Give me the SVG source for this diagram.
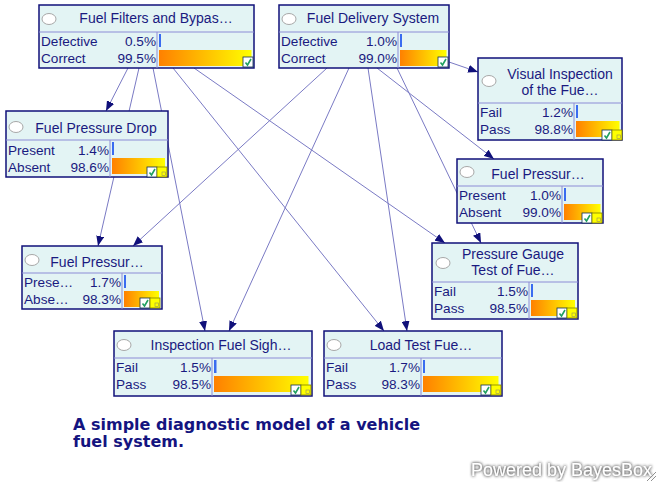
<svg xmlns="http://www.w3.org/2000/svg" width="658" height="482" viewBox="0 0 658 482">
<style>
.box{fill:#e3f4f4;stroke:#10107a;stroke-width:1.5}
.div{stroke:#8c8cd6;stroke-width:1}
.t{font-family:"Liberation Sans",Arial,sans-serif;font-size:14px;fill:#1a1a80;text-anchor:middle}
.l{font-family:"Liberation Sans",Arial,sans-serif;font-size:13.6px;fill:#1a1a80}
.v{font-family:"Liberation Sans",Arial,sans-serif;font-size:13.6px;fill:#1a1a80;text-anchor:end}
.c{fill:#fff;stroke:#a8a8a8;stroke-width:1}
.b{fill:url(#g)}
.s{fill:#3a6cf0}
.ck{fill:#fff;stroke:#103050;stroke-width:0.8}
.cm{fill:none;stroke:#20a060;stroke-width:1.6}
.y{fill:#ffff00;stroke:#808000;stroke-width:0.8}
.e{stroke:#7a7ac4;stroke-width:1;fill:none;marker-end:url(#a)}
.cap{font-family:"DejaVu Sans",Verdana,sans-serif;font-size:16px;font-weight:bold;fill:#141480}
.pw{font-family:"Liberation Sans",Arial,sans-serif;font-size:18px;fill:#fff}
</style>
<defs>
<linearGradient id="g" x1="0" y1="0" x2="1" y2="0"><stop offset="0" stop-color="#ff8000"/><stop offset="1" stop-color="#ffff00"/></linearGradient>
<marker id="a" markerUnits="userSpaceOnUse" markerWidth="10" markerHeight="8" refX="10" refY="4" orient="auto"><path d="M0,0 L10,4 L0,8 z" fill="#10107a"/></marker>
<filter id="glow" x="-10%" y="-40%" width="120%" height="180%"><feGaussianBlur in="SourceAlpha" stdDeviation="1.5" result="b"/><feFlood flood-color="#606060"/><feComposite in2="b" operator="in" result="sh"/><feMerge><feMergeNode in="sh"/><feMergeNode in="sh"/><feMergeNode in="SourceGraphic"/></feMerge></filter>
<g id="chk"><rect class="ck" x="0" y="0" width="10" height="10"/><path class="cm" d="M2.5,5.5 L4.5,8 L8,2"/></g>
<g id="yel"><rect class="y" x="0" y="0" width="10" height="10"/><rect x="5" y="5" width="3.5" height="3.5" fill="none" stroke="#909060" stroke-width="0.6"/></g>
</defs>
<g id="edges">
<line class="e" x1="128" y1="68" x2="106" y2="111"/>
<line class="e" x1="139" y1="68" x2="98" y2="246"/>
<line class="e" x1="153" y1="68" x2="205" y2="331"/>
<line class="e" x1="173" y1="68" x2="384" y2="331"/>
<line class="e" x1="194" y1="68" x2="445" y2="243"/>
<line class="e" x1="449" y1="62" x2="478" y2="72"/>
<line class="e" x1="327" y1="68" x2="133" y2="246"/>
<line class="e" x1="349" y1="68" x2="229" y2="331"/>
<line class="e" x1="368" y1="68" x2="407" y2="331"/>
<line class="e" x1="377" y1="68" x2="494" y2="159"/>
<line class="e" x1="397" y1="68" x2="481" y2="243"/>
</g>
<g id="n1">
<rect class="box" x="39" y="5" width="215" height="63"/>
<line class="div" x1="39" y1="32" x2="254" y2="32"/><line class="div" x1="157" y1="32" x2="157" y2="68"/>
<ellipse class="c" cx="49" cy="19" rx="7" ry="5.5"/>
<text class="t" x="156" y="23">Fuel Filters and Bypas…</text>
<text class="l" x="41" y="46">Defective</text><text class="v" x="156" y="46">0.5%</text>
<text class="l" x="41" y="63">Correct</text><text class="v" x="156" y="63">99.5%</text>
<rect class="s" x="159" y="34" width="2" height="13"/>
<rect class="b" x="159" y="50" width="92.5" height="16"/>
<use href="#chk" x="243" y="57"/>
</g>
<g id="n2">
<rect class="box" x="279" y="5" width="170" height="63"/>
<line class="div" x1="279" y1="32" x2="449" y2="32"/><line class="div" x1="398" y1="32" x2="398" y2="68"/>
<ellipse class="c" cx="289" cy="19" rx="7" ry="5.5"/>
<text class="t" x="373" y="23">Fuel Delivery System</text>
<text class="l" x="281" y="46">Defective</text><text class="v" x="397" y="46">1.0%</text>
<text class="l" x="281" y="63">Correct</text><text class="v" x="397" y="63">99.0%</text>
<rect class="s" x="400" y="34" width="2" height="13"/>
<rect class="b" x="400" y="50" width="46.5" height="16"/>
<use href="#chk" x="438" y="57"/>
</g>
<g id="n3">
<rect class="box" x="478" y="58" width="144" height="82"/>
<line class="div" x1="478" y1="103" x2="622" y2="103"/><line class="div" x1="574" y1="103" x2="574" y2="140"/>
<ellipse class="c" cx="489" cy="81" rx="7" ry="5.5"/>
<text class="t" x="560" y="79">Visual Inspection</text>
<text class="t" x="560" y="95">of the Fue…</text>
<text class="l" x="480" y="117">Fail</text><text class="v" x="573" y="117">1.2%</text>
<text class="l" x="480" y="134">Pass</text><text class="v" x="573" y="134">98.8%</text>
<rect class="s" x="576" y="105" width="2" height="13"/>
<rect class="b" x="576" y="121" width="43.5" height="16"/>
<use href="#chk" x="602" y="130"/><use href="#yel" x="612" y="130"/>
</g>
<g id="n4">
<rect class="box" x="6" y="111" width="162" height="66"/>
<line class="div" x1="6" y1="140" x2="168" y2="140"/><line class="div" x1="110" y1="140" x2="110" y2="177"/>
<ellipse class="c" cx="16" cy="127" rx="7" ry="5.5"/>
<text class="t" x="96" y="133">Fuel Pressure Drop</text>
<text class="l" x="8" y="155">Present</text><text class="v" x="109" y="155">1.4%</text>
<text class="l" x="8" y="172">Absent</text><text class="v" x="109" y="172">98.6%</text>
<rect class="s" x="112" y="142" width="2" height="13"/>
<rect class="b" x="112" y="158" width="53" height="16"/>
<use href="#chk" x="147" y="167"/><use href="#yel" x="157" y="167"/>
</g>
<g id="n5">
<rect class="box" x="457" y="159" width="146" height="64"/>
<line class="div" x1="457" y1="186" x2="603" y2="186"/><line class="div" x1="562" y1="186" x2="562" y2="223"/>
<ellipse class="c" cx="467" cy="172" rx="7" ry="5.5"/>
<text class="t" x="538" y="179">Fuel Pressur…</text>
<text class="l" x="459" y="200">Present</text><text class="v" x="561" y="200">1.0%</text>
<text class="l" x="459" y="217">Absent</text><text class="v" x="561" y="217">99.0%</text>
<rect class="s" x="564" y="188" width="2" height="13"/>
<rect class="b" x="564" y="204" width="36.5" height="16"/>
<use href="#chk" x="582" y="213"/><use href="#yel" x="592" y="213"/>
</g>
<g id="n6">
<rect class="box" x="22" y="246" width="140" height="63"/>
<line class="div" x1="22" y1="273" x2="162" y2="273"/><line class="div" x1="122" y1="273" x2="122" y2="309"/>
<ellipse class="c" cx="32" cy="260" rx="7" ry="5.5"/>
<text class="t" x="97" y="267">Fuel Pressur…</text>
<text class="l" x="24" y="287">Prese…</text><text class="v" x="121" y="287">1.7%</text>
<text class="l" x="24" y="304">Abse…</text><text class="v" x="121" y="304">98.3%</text>
<rect class="s" x="124" y="275" width="2" height="13"/>
<rect class="b" x="124" y="291" width="35" height="16"/>
<use href="#chk" x="140" y="298"/><use href="#yel" x="150" y="298"/>
</g>
<g id="n7">
<rect class="box" x="432" y="243" width="146" height="76"/>
<line class="div" x1="432" y1="282" x2="578" y2="282"/><line class="div" x1="529" y1="282" x2="529" y2="319"/>
<ellipse class="c" cx="443" cy="263" rx="7" ry="5.5"/>
<text class="t" x="513" y="259">Pressure Gauge</text>
<text class="t" x="513" y="275">Test of Fue…</text>
<text class="l" x="434" y="296">Fail</text><text class="v" x="528" y="296">1.5%</text>
<text class="l" x="434" y="313">Pass</text><text class="v" x="528" y="313">98.5%</text>
<rect class="s" x="531" y="284" width="2" height="13"/>
<rect class="b" x="531" y="300" width="44" height="16"/>
<use href="#chk" x="557" y="308"/><use href="#yel" x="567" y="308"/>
</g>
<g id="n8">
<rect class="box" x="114" y="331" width="198" height="65"/>
<line class="div" x1="114" y1="358" x2="312" y2="358"/><line class="div" x1="212" y1="358" x2="212" y2="396"/>
<ellipse class="c" cx="124" cy="345" rx="7" ry="5.5"/>
<text class="t" x="221" y="350">Inspection Fuel Sigh…</text>
<text class="l" x="116" y="372">Fail</text><text class="v" x="211" y="372">1.5%</text>
<text class="l" x="116" y="389">Pass</text><text class="v" x="211" y="389">98.5%</text>
<rect class="s" x="214" y="360" width="2.5" height="13"/>
<rect class="b" x="214" y="376" width="94.5" height="16"/>
<use href="#chk" x="291" y="385"/><use href="#yel" x="301" y="385"/>
</g>
<g id="n9">
<rect class="box" x="324" y="331" width="178" height="65"/>
<line class="div" x1="324" y1="358" x2="502" y2="358"/><line class="div" x1="421" y1="358" x2="421" y2="396"/>
<ellipse class="c" cx="334" cy="345" rx="7" ry="5.5"/>
<text class="t" x="421" y="350">Load Test Fue…</text>
<text class="l" x="326" y="372">Fail</text><text class="v" x="420" y="372">1.7%</text>
<text class="l" x="326" y="389">Pass</text><text class="v" x="420" y="389">98.3%</text>
<rect class="s" x="423" y="360" width="2" height="13"/>
<rect class="b" x="423" y="376" width="75.5" height="16"/>
<use href="#chk" x="481" y="385"/><use href="#yel" x="491" y="385"/>
</g>
<g id="caption">
<text class="cap" x="73" y="430">A simple diagnostic model of a vehicle</text>
<text class="cap" x="73" y="447">fuel system.</text>
</g>
<g id="footer">
<text class="pw" x="471" y="476" filter="url(#glow)">Powered by BayesBox</text>
<path d="M647,481 L656,472 M651,481 L656,476" stroke="#909090" stroke-width="1"/>
</g>
</svg>
